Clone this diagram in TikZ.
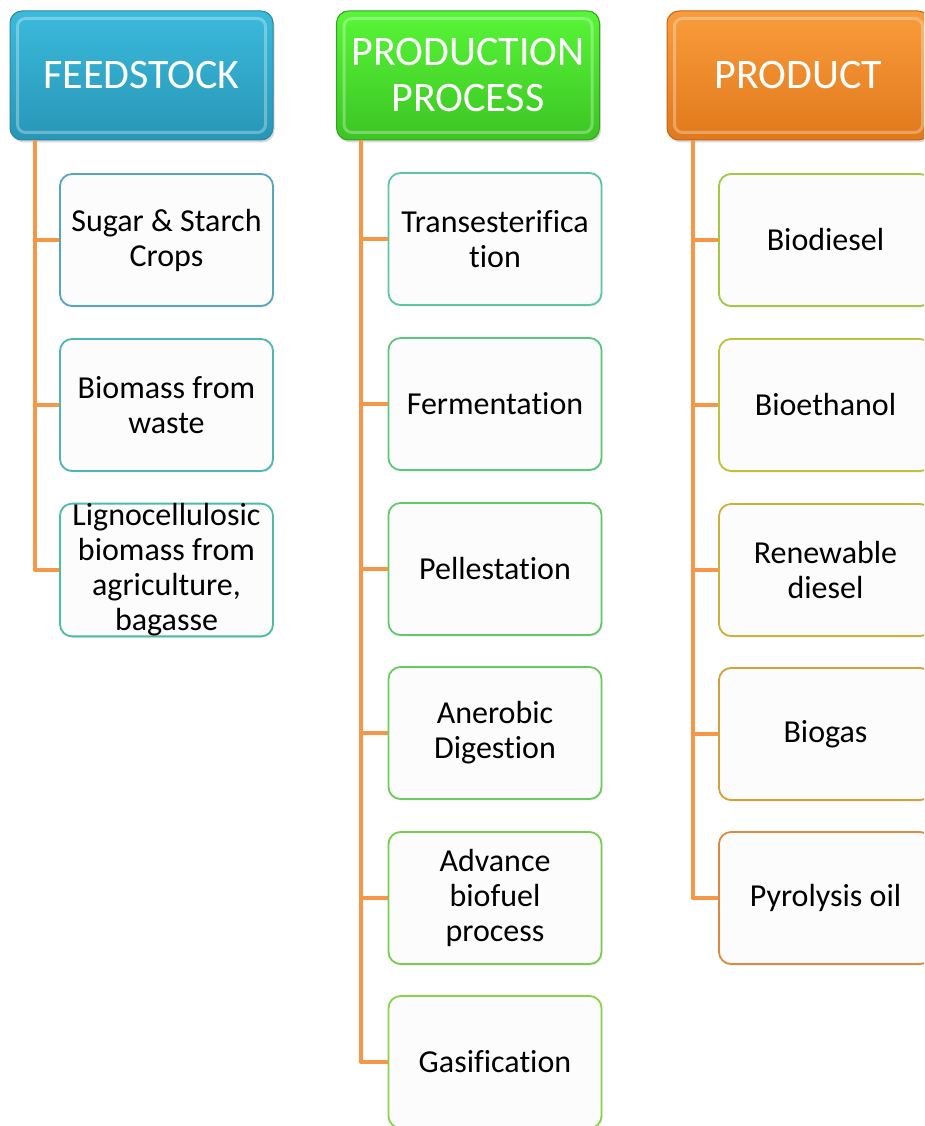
\documentclass[tikz,border=0pt]{standalone}
\usepackage{fontspec}
\setmainfont{Carlito}[Ligatures=NoCommon]
\usepackage{xcolor}
\usepackage{tikz}
\usetikzlibrary{positioning,shadows}

\definecolor{linkorange}{HTML}{F79646}
\definecolor{feedtop}{HTML}{3BBADC}
\definecolor{feedbot}{HTML}{2896B6}
\definecolor{feededge}{HTML}{2A87A2}
\definecolor{proctop}{HTML}{58F638}
\definecolor{procbot}{HTML}{3CC423}
\definecolor{procedge}{HTML}{33A21D}
\definecolor{prodtop}{HTML}{FA9C3C}
\definecolor{prodbot}{HTML}{E0791B}
\definecolor{prodedge}{HTML}{C26514}

\begin{document}
\begin{tikzpicture}[x=1pt, y=-1pt,
  head/.style={rounded corners=12pt, minimum width=263pt, minimum height=129pt,
    text=white, font=\fontsize{42}{46}\selectfont, align=center, inner sep=0pt,
    drop shadow={opacity=0.3, shadow xshift=1.5pt, shadow yshift=-2.5pt}},
  bevel/.style={draw=white, line width=3pt, opacity=0.3, rounded corners=8pt},
  item/.style={draw, line width=1.8pt, rounded corners=12pt, fill=white!99!black,
    minimum width=213pt, minimum height=132pt, inner sep=0pt,
    font=\fontsize{32}{35}\selectfont, align=center,
    drop shadow={opacity=0.15, shadow xshift=1pt, shadow yshift=-1.5pt}},
  link/.style={draw=linkorange, line width=4pt, line join=round}]

\useasboundingbox (0,0) rectangle (924,1126);
\clip (0,0) rectangle (924,1126);

% headers
\node[head, top color=feedtop, bottom color=feedbot, draw=feededge, line width=1pt] (feed) at (141.5,75.5) {FEEDSTOCK};
\node[head, top color=proctop, bottom color=procbot, draw=procedge, line width=1pt] (proc) at (468,75.5) {PRODUCTION\\PROCESS};
\node[head, top color=prodtop, bottom color=prodbot, draw=prodedge, line width=1pt] (prod) at (798.5,75.5) {PRODUCT};

\foreach \h in {feed,proc,prod}
  \draw[bevel] ([xshift=8pt,yshift=-8pt]\h.north west) rectangle ([xshift=-8pt,yshift=8pt]\h.south east);

% feedstock
\node[item, draw={rgb,255:red,88;green,165;blue,192}] (feed_1) at (166.5,240) {Sugar \& Starch\\Crops};
\node[item, draw={rgb,255:red,78;green,180;blue,182}] (feed_2) at (166.5,405) {Biomass from\\waste};
\node[item, draw={rgb,255:red,76;green,188;blue,166}] (feed_3) at (166.5,570) {Lignocellulosic\\biomass from\\agriculture,\\bagasse};

% production process
\node[item, draw={rgb,255:red,92;green,198;blue,160}] (proc_1) at (495,239) {Transesterifica\\tion};
\node[item, draw={rgb,255:red,90;green,200;blue,122}] (proc_2) at (495,404) {Fermentation};
\node[item, draw={rgb,255:red,96;green,202;blue,106}] (proc_3) at (495,569) {Pellestation};
\node[item, draw={rgb,255:red,106;green,203;blue,94}] (proc_4) at (495,733) {Anerobic\\Digestion};
\node[item, draw={rgb,255:red,120;green,204;blue,78}] (proc_5) at (495,898) {Advance\\biofuel\\process};
\node[item, draw={rgb,255:red,136;green,212;blue,70}] (proc_6) at (495,1062) {Gasification};

% products
\node[item, draw={rgb,255:red,164;green,200;blue,62}] (prod_1) at (825.5,240) {Biodiesel};
\node[item, draw={rgb,255:red,190;green,194;blue,58}] (prod_2) at (825.5,405) {Bioethanol};
\node[item, draw={rgb,255:red,205;green,177;blue,54}] (prod_3) at (825.5,570) {Renewable\\diesel};
\node[item, draw={rgb,255:red,212;green,160;blue,58}] (prod_4) at (825.5,734) {Biogas};
\node[item, draw={rgb,255:red,220;green,138;blue,64}] (prod_5) at (825.5,898) {Pyrolysis oil};

% connectors
\foreach \i in {1,2,3}
  \draw[link] ([xshift=25pt]feed.south west) |- (feed_\i.west);
\foreach \i in {1,...,6}
  \draw[link] ([xshift=25pt]proc.south west) |- (proc_\i.west);
\foreach \i in {1,...,5}
  \draw[link] ([xshift=26pt]prod.south west) |- (prod_\i.west);

\end{tikzpicture}
\end{document}
